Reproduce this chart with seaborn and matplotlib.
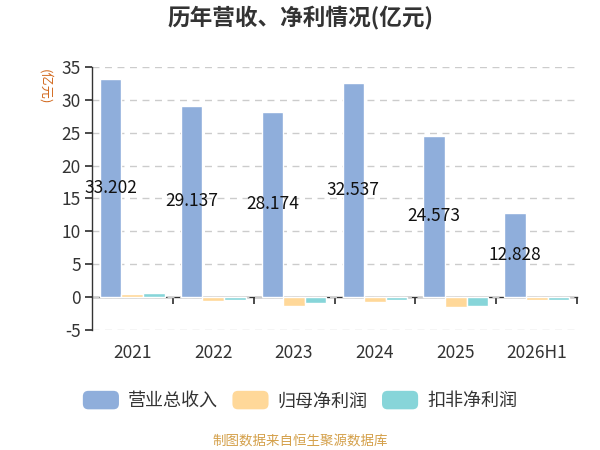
import matplotlib
matplotlib.use("Agg")
import matplotlib.pyplot as plt
import seaborn as sns
import pandas as pd
from matplotlib.patches import Patch, FancyBboxPatch
from matplotlib.legend_handler import HandlerPatch

years = ["2021", "2022", "2023", "2024", "2025", "2026H1"]
revenue = [33.202, 29.137, 28.174, 32.537, 24.573, 12.828]
net_profit = [0.5, -0.55, -1.4, -0.7, -1.5, -0.4]
deducted_profit = [0.65, -0.5, -0.9, -0.4, -1.3, -0.4]
series_names = ["营业总收入", "归母净利润", "扣非净利润"]
colors = ["#8FAEDB", "#FFD899", "#87D5D9"]
yticks = [-5, 0, 5, 10, 15, 20, 25, 30, 35]

sns.set_theme(style="white")
plt.rcParams['font.family'] = ['Noto Sans CJK SC', 'DejaVu Sans']
plt.rcParams['axes.unicode_minus'] = False

df = pd.DataFrame({
    "year": years * 3,
    "value": revenue + net_profit + deducted_profit,
    "series": [series_names[0]] * 6 + [series_names[1]] * 6 + [series_names[2]] * 6,
})

fig = plt.figure(figsize=(6, 4.5), dpi=100)
ax = fig.add_axes([0.153, 0.267, 0.809, 0.584])

sns.barplot(data=df, x="year", y="value", hue="series", palette=colors,
            saturation=1, width=0.8, ax=ax, legend=False, zorder=3)

ax.set_xlim(-0.5, len(years) - 0.5)
ax.set_ylim(-5, 35)
ax.set_yticks(yticks)
ax.yaxis.grid(True, linestyle=(0, (5, 4)), color="#cccccc", linewidth=1, zorder=0)
ax.set_axisbelow(True)
for s in ["top", "right", "bottom"]:
    ax.spines[s].set_visible(False)
ax.spines["left"].set_color("#333333")
ax.spines["left"].set_linewidth(1)
ax.tick_params(axis="y", direction="out", length=5, color="#333333",
               labelsize=12.5, labelcolor="#333333", left=True, pad=3)
ax.tick_params(axis="x", length=0, labelsize=12.5, labelcolor="#333333", pad=10)
ax.set_xlabel("")
ax.set_ylabel("")

# zero axis line with ticks between categories
sec = ax.secondary_xaxis(5 / 40)
sec.set_xticks([i + 0.5 for i in range(len(years))])
sec.set_xticklabels([])
sec.tick_params(axis="x", direction="out", length=5, color="#333333")
sec.spines["bottom"].set_color("#333333")
sec.spines["bottom"].set_linewidth(1)

# value labels on revenue bars
rev_bars = ax.containers[0]
for bar, v in zip(rev_bars, revenue):
    ax.text(bar.get_x() + bar.get_width() / 2, v / 2, f"{v:.3f}",
            ha="center", va="center", fontsize=12.5, color="#111111", zorder=5)

fig.text(0.5, 0.958, "历年营收、净利情况(亿元)", ha="center", va="center",
         fontsize=16.3, fontweight="bold", color="#333333")
fig.text(0.075, 0.807, "(亿元)", ha="center", va="center", rotation=-90,
         fontsize=9.5, color="#D2691E")

class RoundHandler(HandlerPatch):
    def create_artists(self, legend, orig_handle, xdescent, ydescent,
                       width, height, fontsize, trans):
        p = FancyBboxPatch((-xdescent, -ydescent), width, height,
                           boxstyle="round,pad=0,rounding_size=4",
                           facecolor=orig_handle.get_facecolor(),
                           edgecolor="none", transform=trans)
        return [p]

handles = [Patch(facecolor=c, label=n) for c, n in zip(colors, series_names)]
fig.legend(handles=handles, loc="center", bbox_to_anchor=(0.5, 0.11), ncol=3,
           frameon=False, fontsize=13, handlelength=2.0, handleheight=1.2,
           columnspacing=0.8, handletextpad=0.5,
           handler_map={Patch: RoundHandler()}, labelcolor="#333333")

fig.text(0.5, 0.02, "制图数据来自恒生聚源数据库", ha="center", va="center",
         fontsize=9.7, color="#D4A04A")

fig.savefig("out.png", dpi=100)
